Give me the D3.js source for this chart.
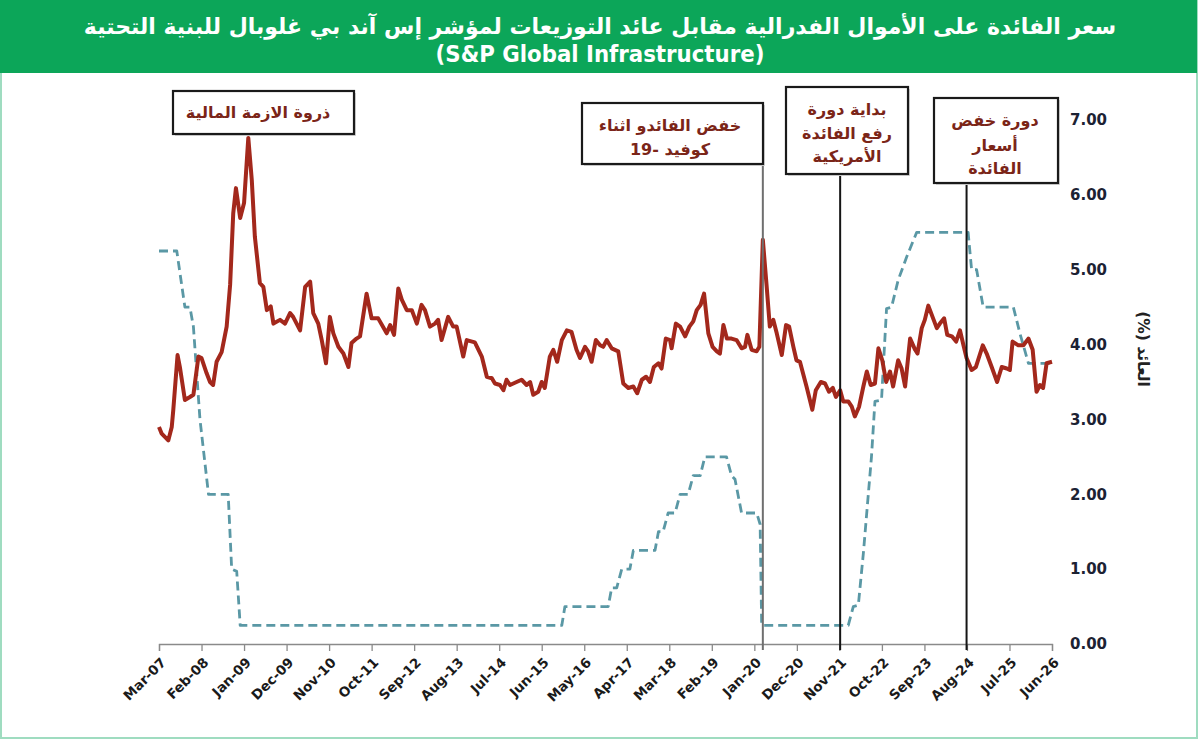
<!DOCTYPE html>
<html><head><meta charset="utf-8">
<script src="https://cdn.jsdelivr.net/npm/d3@7"></script>
<style>body{margin:0;background:#fff;} svg{display:block;}</style>
</head><body><svg id="c" width="1200" height="740"></svg>
<script>
// ---------- DATA ----------
const titleLine1 = "سعر الفائدة على الأموال الفدرالية مقابل عائد التوزيعات لمؤشر إس آند بي غلوبال للبنية التحتية";
const titleLine2 = "(S&P Global Infrastructure)";
const yAxisTitle = "العائد (%)";

const xTickMonths = [0,11,22,33,44,55,66,77,88,99,110,121,132,143,154,165,176,187,198,209,220,231];
const xTickLabels = ["Mar-07","Feb-08","Jan-09","Dec-09","Nov-10","Oct-11","Sep-12","Aug-13","Jul-14","Jun-15","May-16","Apr-17","Mar-18","Feb-19","Jan-20","Dec-20","Nov-21","Oct-22","Sep-23","Aug-24","Jul-25","Jun-26"];
const yTicks = [0,1,2,3,4,5,6,7];

// months since Mar-2007
const yieldMonths = [0,0.7,2.4,3.3,3.7,4.8,5.4,6.7,8.0,8.9,10.2,11.0,12.3,13.2,14.0,14.9,16.2,17.5,18.4,19.2,19.9,21.0,22.0,23.1,24.0,24.8,26.1,27.0,27.9,28.9,29.6,31.3,32.6,33.9,34.7,36.5,37.8,39.1,39.9,41.2,42.1,43.2,44.2,45.1,46.4,47.7,49.0,49.8,51.1,52.0,53.7,55.0,56.7,58.9,59.8,60.8,61.9,62.8,64.1,65.4,66.7,67.9,68.8,70.1,71.4,72.2,73.1,74.8,76.1,77.0,78.7,79.6,81.7,83.5,84.8,86.1,86.9,88.2,89.1,89.9,90.8,92.5,93.8,95.1,96.0,96.8,98.1,99.0,99.8,101.1,102.0,103.0,104.2,105.5,106.7,108.0,108.9,110.2,111.0,111.9,113.0,114.1,114.9,115.8,117.1,118.8,120.1,121.4,122.7,123.7,124.9,126.0,127.0,128.0,129.2,130.0,131.1,132.2,132.6,133.7,134.8,136.1,137.2,138.2,139.1,140.1,141.0,142.1,143.2,144.3,145.1,146.0,146.9,148.1,149.4,150.7,151.6,152.2,153.3,154.6,155.3,156.2,157.2,158.0,158.9,159.8,161.1,162.2,163.0,164.1,164.9,165.8,167.5,169.0,169.9,171.2,172.3,173.3,174.3,175.1,176.2,177.0,178.3,179.2,180.0,181.1,182.2,183.1,184.1,185.2,186.1,187.1,188.1,189.1,189.9,191.2,192.1,193.0,194.3,195.6,196.2,197.3,198.1,199.0,200.1,201.2,202.0,203.1,203.9,205.1,206.2,207.2,208.1,208.9,210.2,211.3,213.1,214.1,215.4,216.8,218.0,219.3,220.1,220.8,222.3,223.6,224.9,226.0,227.0,227.9,228.7,229.6,231.0];
const yieldValues = [2.90,2.81,2.72,2.90,3.13,3.86,3.70,3.26,3.30,3.33,3.84,3.82,3.62,3.50,3.46,3.77,3.90,4.24,4.80,5.75,6.09,5.69,5.89,6.76,6.20,5.44,4.82,4.77,4.46,4.51,4.28,4.33,4.28,4.42,4.37,4.19,4.77,4.84,4.42,4.28,4.06,3.75,4.37,4.15,3.97,3.88,3.70,4.02,4.08,4.11,4.68,4.35,4.35,4.15,4.26,4.13,4.75,4.60,4.46,4.46,4.28,4.53,4.46,4.24,4.28,4.33,4.06,4.37,4.24,4.24,3.84,4.06,4.03,3.84,3.57,3.55,3.48,3.46,3.39,3.53,3.46,3.50,3.53,3.46,3.50,3.33,3.37,3.50,3.42,3.84,3.93,3.77,4.06,4.19,4.17,3.93,3.82,3.97,3.91,3.77,4.06,3.99,3.97,4.06,3.95,3.91,3.48,3.42,3.44,3.35,3.53,3.57,3.50,3.70,3.75,3.68,4.08,4.06,3.95,4.28,4.24,4.11,4.24,4.31,4.46,4.53,4.68,4.15,3.97,3.91,3.88,4.26,4.08,4.08,4.06,3.95,3.97,4.13,3.93,3.91,3.97,5.40,4.77,4.24,4.33,4.15,3.86,4.26,4.24,3.97,3.79,3.77,3.44,3.13,3.39,3.50,3.48,3.37,3.42,3.30,3.39,3.24,3.24,3.17,3.04,3.17,3.44,3.64,3.46,3.48,3.95,3.79,3.50,3.64,3.44,3.79,3.68,3.44,4.08,3.93,3.88,4.22,4.33,4.52,4.37,4.22,4.28,4.35,4.13,4.11,4.04,4.19,3.99,3.82,3.66,3.70,3.99,3.88,3.70,3.50,3.70,3.68,3.66,4.04,3.99,3.99,4.08,3.93,3.37,3.46,3.42,3.75,3.77];

const fedMonths = [0,4.6,6.7,8.0,8.9,10.6,12.8,17.9,18.8,20.1,21.0,104.2,105.0,116.2,117.1,118.4,119.7,121.8,122.7,128.3,129.2,130.4,131.7,133.5,134.8,136.9,138.2,140.0,141.2,146.8,148.1,149.0,150.7,154.6,155.5,155.9,178.3,179.6,180.9,182.2,184.3,185.2,186.9,188.2,189.5,191.2,193.4,196.0,209.3,210.2,211.5,213.2,221.0,222.7,224.9,230.5];
const fedValues = [5.25,5.25,4.50,4.50,4.24,3.00,2.00,2.00,1.00,0.97,0.25,0.25,0.50,0.50,0.75,0.75,1.00,1.00,1.25,1.25,1.50,1.50,1.75,1.75,2.00,2.00,2.25,2.25,2.50,2.50,2.25,2.20,1.75,1.75,1.60,0.25,0.25,0.50,0.52,1.21,2.50,3.24,3.26,4.48,4.50,4.86,5.17,5.50,5.50,5.00,5.00,4.50,4.50,4.15,3.75,3.75];

const annotationTexts = [
  ["ذروة الازمة المالية"],
  ["خفض الفائدو اثناء","كوفيد -19"],
  ["بداية دورة","رفع الفائدة","الأمريكية"],
  ["دورة خفض","أسعار","الفائدة"]
];
const annotationMonths = [null, 156.2, 176.2, 208.9];

// ---------- LAYOUT ----------
const boxes = [
  {x0:173, y0:91, x1:354, y1:134, cx:258, ly:[113]},
  {x0:582, y0:103, x1:763, y1:164, cx:670, ly:[126,150]},
  {x0:786, y0:87, x1:908, y1:174, cx:847, ly:[110,134,157]},
  {x0:934, y0:98, x1:1058, y1:183, cx:995, ly:[121,146,169]}
];
const lineColors = [null, "#6f6f6f", "#151515", "#151515"];

const svg = d3.select("#c");
const x = d3.scaleLinear().domain([0,231]).range([159,1052]);
const y = d3.scaleLinear().domain([0,7]).range([644,120]);

// frame
svg.append("rect").attr("x",1).attr("y",1).attr("width",1196).attr("height",737)
  .attr("fill","#fff").attr("stroke","#9fdcc0").attr("stroke-width",2);
svg.append("rect").attr("x",0).attr("y",0).attr("width",1197).attr("height",73).attr("fill","#0ca659");

function fit(sel, target){
  const w = sel.node().getComputedTextLength();
  const fs = parseFloat(sel.attr("font-size"));
  sel.attr("font-size", fs*target/w);
}
const t1 = svg.append("text").attr("x",600).attr("y",34).attr("text-anchor","middle")
  .attr("direction","rtl").attr("font-family","DejaVu Sans").attr("font-weight","bold")
  .attr("font-size",22).attr("fill","#fff").text(titleLine1);
fit(t1, 1033);
const t2 = svg.append("text").attr("x",600).attr("y",62).attr("text-anchor","middle")
  .attr("font-family","DejaVu Sans Condensed, DejaVu Sans").attr("font-weight","bold")
  .attr("font-size",20).attr("fill","#fff").text(titleLine2);
fit(t2, 329);

// x axis
const xAxis = d3.axisBottom(x).tickValues(xTickMonths).tickSize(7)
  .tickFormat((d,i)=>xTickLabels[i]);
const gx = svg.append("g").attr("transform","translate(0,644)").call(xAxis);
gx.select(".domain").attr("stroke","#8a8a8a").attr("stroke-width",1.3);
gx.selectAll(".tick line").attr("stroke","#8a8a8a").attr("stroke-width",1.3);
gx.selectAll(".tick text")
  .attr("font-family","DejaVu Sans").attr("font-weight","bold").attr("font-size",13.5)
  .attr("fill","#1a1a1a").attr("text-anchor","end")
  .attr("transform","translate(4,16) rotate(-45)").attr("dy","0.35em").attr("y",0).attr("x",0);

// y axis (right)
const yAxis = d3.axisRight(y).tickValues(yTicks).tickSize(0).tickFormat(d3.format(".2f"));
const gy = svg.append("g").attr("transform","translate(1062,0)").call(yAxis);
gy.select(".domain").remove();
gy.selectAll(".tick text").attr("font-family","DejaVu Sans").attr("font-weight","bold")
  .attr("font-size",15).attr("fill","#1c2233").attr("x",8);

svg.append("text").attr("transform","translate(1142,349) rotate(90)")
  .attr("text-anchor","middle").attr("dominant-baseline","middle").attr("direction","rtl")
  .attr("font-family","DejaVu Sans").attr("font-weight","bold").attr("font-size",15.5)
  .attr("fill","#222").text(yAxisTitle);

// fed line
const fedData = fedMonths.map((m,i)=>[m,fedValues[i]]);
svg.append("path").datum(fedData)
  .attr("d", d3.line().x(d=>x(d[0])).y(d=>y(d[1])))
  .attr("fill","none").attr("stroke","#5a98a5").attr("stroke-width",2.8)
  .attr("stroke-dasharray","9,5").attr("stroke-linejoin","round");

// yield line
const yieldData = yieldMonths.map((m,i)=>[m,yieldValues[i]]);
svg.append("path").datum(yieldData)
  .attr("d", d3.line().x(d=>x(d[0])).y(d=>y(d[1])))
  .attr("fill","none").attr("stroke","#a3281c").attr("stroke-width",4)
  .attr("stroke-linejoin","round");

// annotations
annotationTexts.forEach((lines,i)=>{
  const b = boxes[i];
  if (annotationMonths[i] !== null){
    svg.append("line").attr("x1",x(annotationMonths[i])).attr("x2",x(annotationMonths[i]))
      .attr("y1",b.y1).attr("y2",y(0)+6).attr("stroke",lineColors[i]).attr("stroke-width",2);
  }
  svg.append("rect").attr("x",b.x0+2).attr("y",b.y0+2).attr("width",b.x1-b.x0).attr("height",b.y1-b.y0)
    .attr("fill","#d8d8d8");
  svg.append("rect").attr("x",b.x0).attr("y",b.y0).attr("width",b.x1-b.x0).attr("height",b.y1-b.y0)
    .attr("fill","#fff").attr("stroke","#1a1a1a").attr("stroke-width",2.2);
  lines.forEach((t,j)=>{
    svg.append("text").attr("x",b.cx).attr("y",b.ly[j]).attr("text-anchor","middle")
      .attr("dominant-baseline","middle").attr("direction","rtl")
      .attr("font-family","DejaVu Sans").attr("font-weight","bold").attr("font-size",16)
      .attr("fill","#7b2518").text(t);
  });
});
</script></body></html>
